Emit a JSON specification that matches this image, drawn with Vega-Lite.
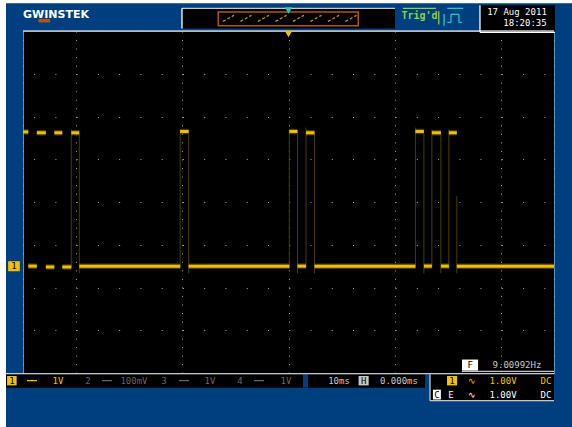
{"$schema":"https://vega.github.io/schema/vega-lite/v6.json","width":531,"height":342,"autosize":{"type":"none"},"padding":{"left":23,"top":31,"right":18,"bottom":54},"background":"#003F7F","view":{"fill":"#000000","stroke":"#4E93C4"},"config":{"axis":{"domain":false,"ticks":false,"labels":false,"title":null,"grid":true,"gridColor":"#A8A8A8","gridWidth":1}},
"datasets":{
"panels":[
{"t0":-54.33,"t1":-53.2,"v0":4.742,"v1":-5.282,"role":"white"},
{"t0":-54.33,"t1":53.39,"v0":4.742,"v1":4.648,"role":"white"},
{"t0":-20.06,"t1":20.06,"v0":4.53,"v1":4.06,"role":"black"},
{"t0":-13.37,"t1":13.28,"v0":4.46,"v1":4.108,"role":"orange"},
{"t0":-13.09,"t1":12.99,"v0":4.425,"v1":4.143,"role":"black"},
{"t0":36.06,"t1":50.19,"v0":4.6,"v1":3.97,"role":"black"},
{"t0":-53.2,"t1":25.7,"v0":-4.03,"v1":-4.343,"role":"black"},
{"t0":2.73,"t1":3.67,"v0":-4.03,"v1":-4.343,"role":"blue"},
{"t0":26.65,"t1":50,"v0":-4.03,"v1":-4.648,"role":"black"},
{"t0":32.67,"t1":35.7,"v0":-3.685,"v1":-3.944,"role":"white"},
{"t0":-52.8,"t1":-50.6,"v0":-1.385,"v1":-1.62,"role":"yellow"},
{"t0":-53.0,"t1":-51.2,"v0":-4.07,"v1":-4.29,"role":"yellow"},
{"t0":29.85,"t1":31.75,"v0":-4.07,"v1":-4.29,"role":"yellow"},
{"t0":13.2,"t1":15.1,"v0":-4.07,"v1":-4.29,"role":"ink"},
{"t0":27.2,"t1":28.7,"v0":-4.39,"v1":-4.62,"role":"white"},
{"t0":-47.1,"t1":-44.9,"v0":4.28,"v1":4.2,"role":"orange"}
],
"strokes":[
{"t0":-53.2,"t1":50,"v0":-4.014,"v1":-4.014,"role":"ink"},
{"t0":-50,"t1":50,"v0":4.0,"v1":4.0,"role":"ink"},
{"t0":-20.06,"t1":20.06,"v0":4.53,"v1":4.53,"role":"ink"},
{"t0":-20.06,"t1":-20.06,"v0":4.53,"v1":4.06,"role":"white"},
{"t0":36.06,"t1":36.06,"v0":4.6,"v1":3.97,"role":"white"},
{"t0":36.06,"t1":50.19,"v0":3.97,"v1":3.97,"role":"white"},
{"t0":32.67,"t1":50,"v0":-3.96,"v1":-3.96,"role":"ink"},
{"t0":26.65,"t1":26.65,"v0":-4.03,"v1":-4.648,"role":"ink"},
{"t0":26.65,"t1":50,"v0":-4.648,"v1":-4.648,"role":"ink"},
{"t0":-49.25,"t1":-47.37,"v0":-4.178,"v1":-4.178,"role":"yellow"},
{"t0":-35.12,"t1":-33.24,"v0":-4.178,"v1":-4.178,"role":"dim"},
{"t0":-20.62,"t1":-18.73,"v0":-4.178,"v1":-4.178,"role":"dim"},
{"t0":-6.5,"t1":-4.62,"v0":-4.178,"v1":-4.178,"role":"dim"},
{"t0":21.56,"t1":27.78,"v0":4.53,"v1":4.53,"role":"green"},
{"t0":28.3,"t1":28.3,"v0":4.46,"v1":4.15,"role":"green"},
{"t0":29.3,"t1":29.3,"v0":4.4,"v1":4.12,"role":"cyan"},
{"t0":29.9,"t1":30.6,"v0":4.2,"v1":4.2,"role":"cyan"},
{"t0":30.6,"t1":30.6,"v0":4.2,"v1":4.39,"role":"cyan"},
{"t0":30.6,"t1":32.1,"v0":4.39,"v1":4.39,"role":"cyan"},
{"t0":32.1,"t1":32.1,"v0":4.39,"v1":4.2,"role":"cyan"},
{"t0":32.1,"t1":32.7,"v0":4.2,"v1":4.2,"role":"cyan"},
{"t0":29.9,"t1":32.9,"v0":4.53,"v1":4.53,"role":"cyan"}
],
"overview":[
{"t0":-12.34,"t1":-10.27,"v0":4.225,"v1":4.366},
{"t0":-9.04,"t1":-6.97,"v0":4.225,"v1":4.366},
{"t0":-5.75,"t1":-3.68,"v0":4.225,"v1":4.366},
{"t0":-2.45,"t1":-0.38,"v0":4.225,"v1":4.366},
{"t0":0.84,"t1":2.91,"v0":4.225,"v1":4.366},
{"t0":4.14,"t1":6.21,"v0":4.225,"v1":4.366},
{"t0":7.44,"t1":9.51,"v0":4.225,"v1":4.366},
{"t0":10.73,"t1":12.8,"v0":4.225,"v1":4.366}
],
"edges":[
{"t0":-40.9,"v0":1.7,"v1":-1.55},
{"t0":-39.4,"v0":1.6,"v1":-1.67},
{"t0":-20.4,"v0":1.7,"v1":-1.55},
{"t0":-18.8,"v0":1.6,"v1":-1.67},
{"t0":0.15,"v0":1.7,"v1":-1.55},
{"t0":1.7,"v0":1.6,"v1":-1.67},
{"t0":3.3,"v0":1.74,"v1":-1.55},
{"t0":4.9,"v0":1.6,"v1":-1.67},
{"t0":23.9,"v0":1.74,"v1":-1.55},
{"t0":25.5,"v0":1.6,"v1":-1.67},
{"t0":27,"v0":1.7,"v1":-1.55},
{"t0":28.7,"v0":1.6,"v1":-1.67},
{"t0":30.2,"v0":1.7,"v1":-1.55},
{"t0":31.7,"v0":0.14,"v1":-1.67}
],
"trace":[
{"t0":-50,"t1":-49,"v0":1.64},{"t0":-47.4,"t1":-45.7,"v0":1.62},{"t0":-44.1,"t1":-42.6,"v0":1.62},{"t0":-40.9,"t1":-39.4,"v0":1.62},{"t0":-20.4,"t1":-18.8,"v0":1.65},{"t0":0.15,"t1":1.7,"v0":1.65},{"t0":3.3,"t1":4.9,"v0":1.62},{"t0":23.9,"t1":25.5,"v0":1.65},{"t0":27,"t1":28.7,"v0":1.62},{"t0":30.2,"t1":31.7,"v0":1.62},
{"t0":-49,"t1":-47.4,"v0":-1.5},{"t0":-45.7,"t1":-44.1,"v0":-1.52},{"t0":-42.6,"t1":-40.9,"v0":-1.52},{"t0":-39.4,"t1":-20.4,"v0":-1.5},{"t0":-18.8,"t1":0.15,"v0":-1.5},{"t0":1.7,"t1":3.3,"v0":-1.5},{"t0":4.9,"t1":23.9,"v0":-1.5},{"t0":25.5,"t1":27,"v0":-1.5},{"t0":28.7,"t1":30.2,"v0":-1.5},{"t0":31.7,"t1":50,"v0":-1.5}
],
"markers":[{"t0":0,"v0":3.93,"role":"gold"},{"t0":0,"v0":4.48,"role":"cyan"}],
"labels":[
{"t0":43.03,"v0":4.437,"label":"17 Aug 2011","role":"white"},
{"t0":44.54,"v0":4.178,"label":"18:20:35","role":"white"},
{"t0":-43.41,"v0":-4.178,"label":"1V","role":"yellow"},
{"t0":-52.1,"v0":-4.178,"label":"1","role":"black"},
{"t0":-37.76,"v0":-4.178,"label":"2","role":"dim"},
{"t0":-29.1,"v0":-4.178,"label":"100mV","role":"dim"},
{"t0":-23.45,"v0":-4.178,"label":"3","role":"dim"},
{"t0":-14.78,"v0":-4.178,"label":"1V","role":"dim"},
{"t0":-9.13,"v0":-4.178,"label":"4","role":"dim"},
{"t0":-0.47,"v0":-4.178,"label":"1V","role":"dim"},
{"t0":9.51,"v0":-4.178,"label":"10ms","role":"ink"},
{"t0":14.15,"v0":-4.178,"label":"H","role":"black"},
{"t0":20.81,"v0":-4.178,"label":"0.000ms","role":"ink"},
{"t0":30.8,"v0":-4.178,"label":"1","role":"black"},
{"t0":34.56,"v0":-4.178,"label":"∿","role":"yellow"},
{"t0":40.4,"v0":-4.178,"label":"1.00V","role":"yellow"},
{"t0":48.49,"v0":-4.178,"label":"DC","role":"yellow"},
{"t0":27.97,"v0":-4.507,"label":"C","role":"black"},
{"t0":30.6,"v0":-4.507,"label":"E","role":"white"},
{"t0":34.56,"v0":-4.507,"label":"∿","role":"white"},
{"t0":40.4,"v0":-4.507,"label":"1.00V","role":"white"},
{"t0":48.49,"v0":-4.507,"label":"DC","role":"white"},
{"t0":34.2,"v0":-3.81,"label":"F","role":"black"},
{"t0":43.03,"v0":-3.803,"label":"9.00992Hz","role":"ink"},
{"t0":-51.7,"v0":-1.5,"label":"1","role":"black"}
]},
"encoding":{
"x":{"field":"t0","type":"quantitative","scale":{"domain":[-50,50],"nice":false,"zero":false},"axis":{"values":[-50,-40,-20,0,20,40,50],"gridDash":[1,7.53]}},
"y":{"field":"v0","type":"quantitative","scale":{"domain":[-4,4],"nice":false,"zero":false},"axis":{"values":[-4,-3,-2,-1,0,1,2,3,4],"gridDash":[1,20.26],"gridDashOffset":10.63}}
},
"layer":[
{"data":{"name":"panels"},"mark":{"type":"rect"},"encoding":{"x2":{"field":"t1"},"y2":{"field":"v1"},"color":{"field":"role","type":"nominal","legend":null,"scale":{"domain":["white","black","blue","orange","yellow","gold","ink","dim","green","cyan"],"range":["#FFFFFF","#000000","#003F7F","#B4560F","#F2C200","#F2C200","#C8C8C8","#666666","#8FD13F","#28C8C0"]}}}},
{"data":{"name":"strokes"},"mark":{"type":"rule","strokeWidth":1.3},"encoding":{"x2":{"field":"t1"},"y2":{"field":"v1"},"color":{"field":"role","type":"nominal","legend":null}}},
{"data":{"name":"overview"},"mark":{"type":"rule","strokeWidth":1.2,"color":"#D09A20","strokeDash":[3,2]},"encoding":{"x2":{"field":"t1"},"y2":{"field":"v1"}}},
{"data":{"name":"edges"},"mark":{"type":"rule","strokeWidth":1,"color":"#4A3D00"},"encoding":{"y2":{"field":"v1"}}},
{"data":{"name":"trace"},"mark":{"type":"rule","strokeWidth":5.5,"color":"#8A7000","opacity":0.5},"encoding":{"x2":{"field":"t1"}}},
{"data":{"name":"trace"},"mark":{"type":"rule","strokeWidth":3,"color":"#F0C000"},"encoding":{"x2":{"field":"t1"}}},
{"data":{"name":"markers"},"mark":{"type":"point","shape":"triangle-down","filled":true,"size":55,"opacity":1},"encoding":{"color":{"field":"role","type":"nominal","legend":null}}},
{"data":{"name":"labels"},"mark":{"type":"text","font":"DejaVu Sans Mono","fontSize":9,"align":"center","baseline":"middle"},"encoding":{"text":{"field":"label","type":"nominal"},"color":{"field":"role","type":"nominal","legend":null}}},
{"data":{"values":[{"t0":24.67,"v0":4.343,"label":"Trig'd"}]},"mark":{"type":"text","font":"DejaVu Sans Mono","fontSize":10,"fontWeight":"bold","align":"center","baseline":"middle","color":"#8FD13F"},"encoding":{"text":{"field":"label","type":"nominal"}}},
{"data":{"values":[{"t0":-50,"v0":4.366,"label":"GWINSTEK"}]},"mark":{"type":"text","font":"DejaVu Sans","fontSize":11,"fontWeight":"bold","align":"left","baseline":"middle","color":"#FFFFFF"},"encoding":{"text":{"field":"label","type":"nominal"}}}
]}
